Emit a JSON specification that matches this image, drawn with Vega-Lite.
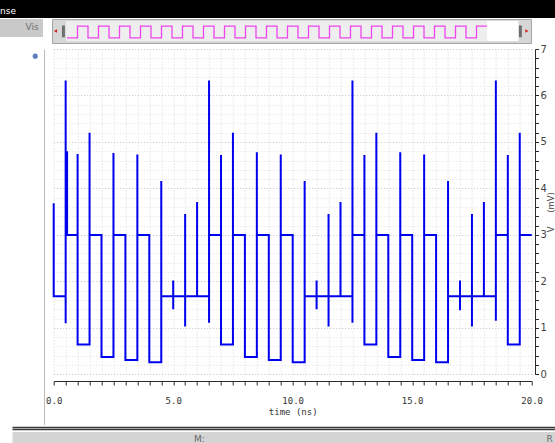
{
  "$schema": "https://vega.github.io/schema/vega-lite/v6.json",
  "padding": 0,
  "background": "white",
  "spacing": 0,
  "config": {"view": {"stroke": null}},
  "datasets": {
    "wave": [
      {"t":0,"v":3.68,"i":0},{"t":0,"v":1.68,"i":1},{"t":0.5,"v":1.68,"i":2},{"t":0.5,"v":6.32,"i":3},{"t":0.5,"v":1.1,"i":4},{"t":0.5,"v":3.0,"i":5},
      {"t":0.56,"v":3.0,"i":5.1},{"t":0.56,"v":4.8,"i":5.2},{"t":0.56,"v":3.0,"i":5.3},
      {"t":1.0,"v":3.0,"i":6},{"t":1.0,"v":4.74,"i":7},{"t":1.0,"v":0.64,"i":8},{"t":1.5,"v":0.64,"i":9},{"t":1.5,"v":5.2,"i":10},{"t":1.5,"v":3.0,"i":11},
      {"t":2.0,"v":3.0,"i":12},{"t":2.0,"v":0.37,"i":13},{"t":2.5,"v":0.37,"i":14},{"t":2.5,"v":4.76,"i":15},{"t":2.5,"v":3.0,"i":16},
      {"t":3.0,"v":3.0,"i":17},{"t":3.0,"v":0.31,"i":18},{"t":3.5,"v":0.31,"i":19},{"t":3.5,"v":4.73,"i":20},{"t":3.5,"v":3.0,"i":21},
      {"t":4.0,"v":3.0,"i":22},{"t":4.0,"v":0.26,"i":23},{"t":4.5,"v":0.26,"i":24},{"t":4.5,"v":4.16,"i":25},{"t":4.5,"v":1.68,"i":26},
      {"t":5.0,"v":1.68,"i":27},{"t":5.0,"v":2.02,"i":28},{"t":5.0,"v":1.4,"i":29},{"t":5.0,"v":1.68,"i":30},
      {"t":5.5,"v":1.68,"i":31},{"t":5.5,"v":3.45,"i":32},{"t":5.5,"v":1.03,"i":33},{"t":5.5,"v":1.68,"i":34},
      {"t":6.0,"v":1.68,"i":35},{"t":6.0,"v":3.71,"i":36},{"t":6.0,"v":1.68,"i":37},
      {"t":6.5,"v":1.68,"i":38},{"t":6.5,"v":6.32,"i":39},{"t":6.5,"v":1.11,"i":40},{"t":6.5,"v":3.0,"i":41},
      {"t":7.0,"v":3.0,"i":42},{"t":7.0,"v":4.72,"i":43},{"t":7.0,"v":0.64,"i":44},{"t":7.5,"v":0.64,"i":45},{"t":7.5,"v":5.2,"i":46},{"t":7.5,"v":3.0,"i":47},
      {"t":8.0,"v":3.0,"i":48},{"t":8.0,"v":0.37,"i":49},{"t":8.5,"v":0.37,"i":50},{"t":8.5,"v":4.78,"i":51},{"t":8.5,"v":3.0,"i":52},
      {"t":9.0,"v":3.0,"i":53},{"t":9.0,"v":0.31,"i":54},{"t":9.5,"v":0.31,"i":55},{"t":9.5,"v":4.73,"i":56},{"t":9.5,"v":3.0,"i":57},
      {"t":10.0,"v":3.0,"i":58},{"t":10.0,"v":0.26,"i":59},{"t":10.5,"v":0.26,"i":60},{"t":10.5,"v":4.16,"i":61},{"t":10.5,"v":1.68,"i":62},
      {"t":11.0,"v":1.68,"i":63},{"t":11.0,"v":2.02,"i":64},{"t":11.0,"v":1.4,"i":65},{"t":11.0,"v":1.68,"i":66},
      {"t":11.5,"v":1.68,"i":67},{"t":11.5,"v":3.45,"i":68},{"t":11.5,"v":1.03,"i":69},{"t":11.5,"v":1.68,"i":70},
      {"t":12.0,"v":1.68,"i":71},{"t":12.0,"v":3.71,"i":72},{"t":12.0,"v":1.68,"i":73},
      {"t":12.5,"v":1.68,"i":74},{"t":12.5,"v":6.32,"i":75},{"t":12.5,"v":1.11,"i":76},{"t":12.5,"v":3.0,"i":77},
      {"t":13.0,"v":3.0,"i":78},{"t":13.0,"v":4.72,"i":79},{"t":13.0,"v":0.64,"i":80},{"t":13.5,"v":0.64,"i":81},{"t":13.5,"v":5.2,"i":82},{"t":13.5,"v":3.0,"i":83},
      {"t":14.0,"v":3.0,"i":84},{"t":14.0,"v":0.37,"i":85},{"t":14.5,"v":0.37,"i":86},{"t":14.5,"v":4.78,"i":87},{"t":14.5,"v":3.0,"i":88},
      {"t":15.0,"v":3.0,"i":89},{"t":15.0,"v":0.31,"i":90},{"t":15.5,"v":0.31,"i":91},{"t":15.5,"v":4.73,"i":92},{"t":15.5,"v":3.0,"i":93},
      {"t":16.0,"v":3.0,"i":94},{"t":16.0,"v":0.26,"i":95},{"t":16.5,"v":0.26,"i":96},{"t":16.5,"v":4.16,"i":97},{"t":16.5,"v":1.68,"i":98},
      {"t":17.0,"v":1.68,"i":99},{"t":17.0,"v":2.02,"i":100},{"t":17.0,"v":1.38,"i":101},{"t":17.0,"v":1.68,"i":102},
      {"t":17.5,"v":1.68,"i":103},{"t":17.5,"v":3.45,"i":104},{"t":17.5,"v":1.03,"i":105},{"t":17.5,"v":1.68,"i":106},
      {"t":18.0,"v":1.68,"i":107},{"t":18.0,"v":3.71,"i":108},{"t":18.0,"v":1.68,"i":109},
      {"t":18.5,"v":1.68,"i":110},{"t":18.5,"v":6.32,"i":111},{"t":18.5,"v":1.15,"i":112},{"t":18.5,"v":3.0,"i":113},
      {"t":19.0,"v":3.0,"i":114},{"t":19.0,"v":4.72,"i":115},{"t":19.0,"v":0.64,"i":116},{"t":19.5,"v":0.64,"i":117},{"t":19.5,"v":5.2,"i":118},{"t":19.5,"v":3.0,"i":119},
      {"t":20.0,"v":3.0,"i":120}
    ],
    "clock": [
      {"t":0,"v":0,"i":0},
      {"t":0.5,"v":0,"i":1},{"t":0.5,"v":1,"i":2},{"t":1,"v":1,"i":3},{"t":1,"v":0,"i":4},
      {"t":1.5,"v":0,"i":5},{"t":1.5,"v":1,"i":6},{"t":2,"v":1,"i":7},{"t":2,"v":0,"i":8},
      {"t":2.5,"v":0,"i":9},{"t":2.5,"v":1,"i":10},{"t":3,"v":1,"i":11},{"t":3,"v":0,"i":12},
      {"t":3.5,"v":0,"i":13},{"t":3.5,"v":1,"i":14},{"t":4,"v":1,"i":15},{"t":4,"v":0,"i":16},
      {"t":4.5,"v":0,"i":17},{"t":4.5,"v":1,"i":18},{"t":5,"v":1,"i":19},{"t":5,"v":0,"i":20},
      {"t":5.5,"v":0,"i":21},{"t":5.5,"v":1,"i":22},{"t":6,"v":1,"i":23},{"t":6,"v":0,"i":24},
      {"t":6.5,"v":0,"i":25},{"t":6.5,"v":1,"i":26},{"t":7,"v":1,"i":27},{"t":7,"v":0,"i":28},
      {"t":7.5,"v":0,"i":29},{"t":7.5,"v":1,"i":30},{"t":8,"v":1,"i":31},{"t":8,"v":0,"i":32},
      {"t":8.5,"v":0,"i":33},{"t":8.5,"v":1,"i":34},{"t":9,"v":1,"i":35},{"t":9,"v":0,"i":36},
      {"t":9.5,"v":0,"i":37},{"t":9.5,"v":1,"i":38},{"t":10,"v":1,"i":39},{"t":10,"v":0,"i":40},
      {"t":10.5,"v":0,"i":41},{"t":10.5,"v":1,"i":42},{"t":11,"v":1,"i":43},{"t":11,"v":0,"i":44},
      {"t":11.5,"v":0,"i":45},{"t":11.5,"v":1,"i":46},{"t":12,"v":1,"i":47},{"t":12,"v":0,"i":48},
      {"t":12.5,"v":0,"i":49},{"t":12.5,"v":1,"i":50},{"t":13,"v":1,"i":51},{"t":13,"v":0,"i":52},
      {"t":13.5,"v":0,"i":53},{"t":13.5,"v":1,"i":54},{"t":14,"v":1,"i":55},{"t":14,"v":0,"i":56},
      {"t":14.5,"v":0,"i":57},{"t":14.5,"v":1,"i":58},{"t":15,"v":1,"i":59},{"t":15,"v":0,"i":60},
      {"t":15.5,"v":0,"i":61},{"t":15.5,"v":1,"i":62},{"t":16,"v":1,"i":63},{"t":16,"v":0,"i":64},
      {"t":16.5,"v":0,"i":65},{"t":16.5,"v":1,"i":66},{"t":17,"v":1,"i":67},{"t":17,"v":0,"i":68},
      {"t":17.5,"v":0,"i":69},{"t":17.5,"v":1,"i":70},{"t":18,"v":1,"i":71},{"t":18,"v":0,"i":72},
      {"t":18.5,"v":0,"i":73},{"t":18.5,"v":1,"i":74},{"t":19,"v":1,"i":75},{"t":19,"v":0,"i":76},
      {"t":19.5,"v":0,"i":77},{"t":19.5,"v":1,"i":78},{"t":20,"v":1,"i":79}
    ]
  },
  "vconcat": [
    {
      "width": 555,
      "height": 18,
      "view": {"fill": "#000000", "stroke": null},
      "data": {"values": [{}]},
      "mark": {"type": "text", "text": "nse", "color": "#ffffff", "align": "left", "baseline": "middle", "fontSize": 9, "font": "DejaVu Sans"},
      "encoding": {
        "x": {"datum": 0, "type": "quantitative", "scale": {"domain": [0, 1]}, "axis": null},
        "y": {"datum": 0.39, "type": "quantitative", "scale": {"domain": [0, 1]}, "axis": null}
      }
    },
    {
      "bounds": "flush",
      "spacing": 9,
      "hconcat": [
        {
          "width": 43,
          "height": 18,
          "view": {"fill": "#c9c9c9", "stroke": null},
          "data": {"values": [{}]},
          "mark": {"type": "text", "text": "Vis", "color": "#707070", "align": "right", "baseline": "middle", "fontSize": 9, "font": "DejaVu Sans"},
          "encoding": {
            "x": {"datum": 0.9, "type": "quantitative", "scale": {"domain": [0, 1]}, "axis": null},
            "y": {"datum": 0.53, "type": "quantitative", "scale": {"domain": [0, 1]}, "axis": null}
          }
        },
        {
          "width": 479,
          "height": 24,
          "view": {"fill": "#d6d6d6", "stroke": "#a4a4a4"},
          "layer": [
            {
              "data": {"values": [{}]},
              "mark": {"type": "rect", "color": "#eeeeee"},
              "encoding": {
                "x": {"datum": -0.05, "type": "quantitative", "scale": {"domain": [-0.714, 22.095], "nice": false, "zero": false}, "axis": null},
                "x2": {"datum": 20},
                "y": {"datum": -0.27, "type": "quantitative", "scale": {"domain": [-0.4286, 1.612], "nice": false, "zero": false}, "axis": null},
                "y2": {"datum": 1.45}
              }
            },
            {
              "data": {"values": [{}]},
              "mark": {"type": "rect", "color": "#ffffff"},
              "encoding": {
                "x": {"datum": 20, "type": "quantitative", "scale": {"domain": [-0.714, 22.095], "nice": false, "zero": false}, "axis": null},
                "x2": {"datum": 21.5},
                "y": {"datum": -0.27, "type": "quantitative", "scale": {"domain": [-0.4286, 1.612], "nice": false, "zero": false}, "axis": null},
                "y2": {"datum": 1.45}
              }
            },
            {
              "data": {"values": [{}]},
              "mark": {"type": "rect", "color": "#6e6e6e"},
              "encoding": {
                "x": {"datum": -0.24, "type": "quantitative", "scale": {"domain": [-0.714, 22.095], "nice": false, "zero": false}, "axis": null},
                "x2": {"datum": -0.1},
                "y": {"datum": 0.06, "type": "quantitative", "scale": {"domain": [-0.4286, 1.612], "nice": false, "zero": false}, "axis": null},
                "y2": {"datum": 1.06}
              }
            },
            {
              "data": {"values": [{}]},
              "mark": {"type": "rect", "color": "#6e6e6e"},
              "encoding": {
                "x": {"datum": 21.52, "type": "quantitative", "scale": {"domain": [-0.714, 22.095], "nice": false, "zero": false}, "axis": null},
                "x2": {"datum": 21.66},
                "y": {"datum": 0.06, "type": "quantitative", "scale": {"domain": [-0.4286, 1.612], "nice": false, "zero": false}, "axis": null},
                "y2": {"datum": 1.06}
              }
            },
            {
              "data": {"name": "clock"},
              "mark": {"type": "line", "color": "#ee44ee", "strokeWidth": 1.3},
              "encoding": {
                "x": {"field": "t", "type": "quantitative", "scale": {"domain": [-0.714, 22.095], "nice": false, "zero": false}, "axis": null},
                "y": {"field": "v", "type": "quantitative", "scale": {"domain": [-0.4286, 1.612], "nice": false, "zero": false}, "axis": null},
                "order": {"field": "i", "type": "quantitative"}
              }
            },
            {
              "data": {"values": [{}]},
              "mark": {"type": "point", "shape": "triangle-left", "filled": true, "color": "#d42020", "size": 14, "opacity": 1},
              "encoding": {
                "x": {"datum": -0.55, "type": "quantitative", "scale": {"domain": [-0.714, 22.095], "nice": false, "zero": false}, "axis": null},
                "y": {"datum": 0.592, "type": "quantitative", "scale": {"domain": [-0.4286, 1.612], "nice": false, "zero": false}, "axis": null}
              }
            },
            {
              "data": {"values": [{}]},
              "mark": {"type": "point", "shape": "triangle-right", "filled": true, "color": "#d42020", "size": 14, "opacity": 1},
              "encoding": {
                "x": {"datum": 21.9, "type": "quantitative", "scale": {"domain": [-0.714, 22.095], "nice": false, "zero": false}, "axis": null},
                "y": {"datum": 0.592, "type": "quantitative", "scale": {"domain": [-0.4286, 1.612], "nice": false, "zero": false}, "axis": null}
              }
            }
          ]
        }
      ]
    },
    {
      "bounds": "flush",
      "spacing": 9.7,
      "hconcat": [
        {
          "width": 44,
          "height": 376,
          "data": {"values": [{}]},
          "mark": {"type": "point", "filled": true, "color": "#5b7fbf", "size": 26, "opacity": 1},
          "encoding": {
            "x": {"datum": 0.8, "type": "quantitative", "scale": {"domain": [0, 1]}, "axis": null},
            "y": {"datum": 0.981, "type": "quantitative", "scale": {"domain": [0, 1]}, "axis": {"orient": "right", "labels": false, "ticks": false, "grid": false, "title": null, "domainColor": "#bcbcbc", "domainWidth": 1}}
          }
        },
        {
          "width": 478,
          "height": 325.3,
          "data": {"name": "wave"},
          "mark": {"type": "line", "color": "#0000f0", "strokeWidth": 2},
          "encoding": {
            "x": {
              "field": "t", "type": "quantitative",
              "scale": {"domain": [0, 20], "nice": false, "zero": false},
              "axis": {
                "values": [0,0.5,1,1.5,2,2.5,3,3.5,4,4.5,5,5.5,6,6.5,7,7.5,8,8.5,9,9.5,10,10.5,11,11.5,12,12.5,13,13.5,14,14.5,15,15.5,16,16.5,17,17.5,18,18.5,19,19.5,20],
                "labelExpr": "datum.value % 5 == 0 ? format(datum.value, '.1f') : ''",
                "offset": 6.7, "tickSize": 4, "tickColor": "#2a2a2a", "domainColor": "#2a2a2a",
                "labelFont": "DejaVu Sans Mono", "labelFontSize": 9, "labelColor": "#333333", "labelPadding": 11,
                "labelFlush": false, "labelOverlap": false, "labelBound": false,
                "title": "time (ns)", "titleFont": "DejaVu Sans Mono", "titleFontSize": 9, "titleFontWeight": "normal", "titleColor": "#333333", "titlePadding": 2,
                "grid": true, "gridColor": "#d6d6d6", "gridDash": [1, 2], "gridWidth": 1
              }
            },
            "y": {
              "field": "v", "type": "quantitative",
              "scale": {"domain": [0, 7], "nice": false},
              "axis": {
                "orient": "right",
                "values": [0,0.2,0.4,0.6,0.8,1,1.2,1.4,1.6,1.8,2,2.2,2.4,2.6,2.8,3,3.2,3.4,3.6,3.8,4,4.2,4.4,4.6,4.8,5,5.2,5.4,5.6,5.8,6,6.2,6.4,6.6,6.8,7],
                "labelExpr": "abs(datum.value - round(datum.value)) < 0.01 ? format(datum.value, 'd') : ''",
                "offset": 3.3, "tickSize": 3.5, "tickColor": "#2a2a2a", "domainColor": "#2a2a2a",
                "labelFont": "DejaVu Sans", "labelFontSize": 10, "labelColor": "#444444", "labelPadding": 1.5,
                "labelFlush": false, "labelOverlap": false, "labelBound": false,
                "title": "V\u00a0\u00a0\u00a0\u00a0\u00a0(mV)", "titleFont": "DejaVu Sans", "titleFontSize": 8.5, "titleFontWeight": "normal", "titleColor": "#444444", "titleAngle": 270, "titleBaseline": "middle", "titlePadding": 4.5,
                "grid": true,
                "gridColor": {"condition": {"test": "abs(datum.value - round(datum.value)) < 0.01", "value": "#c6c6c6"}, "value": "#e2e2e2"},
                "gridDash": [1, 2], "gridWidth": 1
              }
            },
            "order": {"field": "i", "type": "quantitative"}
          }
        }
      ]
    },
    {
      "bounds": "flush",
      "spacing": 11,
      "hconcat": [
        {
          "width": 1,
          "height": 1,
          "data": {"values": [{}]},
          "mark": {"type": "point", "opacity": 0, "size": 0},
          "encoding": {}
        },
        {
          "width": 543,
          "height": 19,
          "view": {"fill": "#ffffff", "stroke": null},
          "data": {"values": [{}]},
          "encoding": {
            "y": {
              "datum": 5, "type": "quantitative",
              "scale": {"domain": [0, 19], "nice": false, "zero": false},
              "axis": {
                "values": [6.5, 14.5, 17.5], "labels": false, "ticks": false, "domain": false, "title": null, "grid": true, "gridDash": [],
                "gridColor": {"condition": {"test": "datum.value < 10", "value": "#d4d4d4"}, "value": "#3a3a3a"},
                "gridWidth": {"condition": {"test": "datum.value < 10", "value": 13}, "value": 1.6}
              }
            }
          },
          "layer": [
            {
              "mark": {"type": "text", "text": "M:", "color": "#666666", "fontSize": 9, "font": "DejaVu Sans", "baseline": "middle"},
              "encoding": {"x": {"datum": 0.345, "type": "quantitative", "scale": {"domain": [0, 1]}, "axis": null}}
            },
            {
              "mark": {"type": "text", "text": "R", "color": "#666666", "fontSize": 9, "font": "DejaVu Sans", "baseline": "middle"},
              "encoding": {"x": {"datum": 0.99, "type": "quantitative", "scale": {"domain": [0, 1]}, "axis": null}}
            }
          ]
        }
      ]
    }
  ]
}
